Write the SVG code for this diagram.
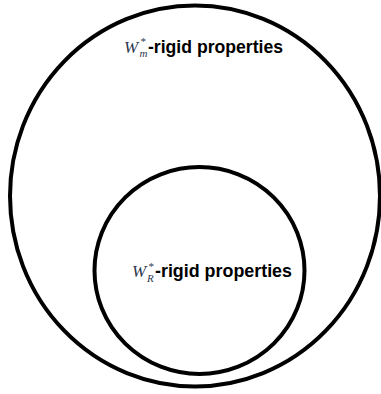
<svg xmlns="http://www.w3.org/2000/svg" width="381" height="394" viewBox="0 0 381 394">
<style>
.ring{fill:none;stroke:#000;stroke-width:4}
.lbl{font-family:"Liberation Sans",Arial,sans-serif;font-weight:bold;font-size:17.5px;fill:#000}
.w{font-family:"Liberation Serif","Times New Roman",serif;font-style:italic;fill:#2e3850}
</style>
<rect width="381" height="394" fill="#fff"/>
<g id="outer">
<ellipse class="ring" cx="195" cy="196" rx="185" ry="190.5"/>
<text class="w" x="124" y="52.5" font-size="17">W</text>
<text class="w" x="140" y="45" font-size="11">*</text>
<text class="w" x="139.5" y="57" font-size="11">m</text>
<text class="lbl" x="148" y="52.5" textLength="135" lengthAdjust="spacingAndGlyphs">-rigid properties</text>
</g>
<g id="inner">
<ellipse class="ring" cx="199.5" cy="270.5" rx="105" ry="103.5"/>
<text class="w" x="132" y="277" font-size="17">W</text>
<text class="w" x="148" y="269.5" font-size="11">*</text>
<text class="w" x="147" y="282" font-size="11">R</text>
<text class="lbl" x="155" y="277" textLength="137" lengthAdjust="spacingAndGlyphs">-rigid properties</text>
</g>
<g id="connectors"></g>
</svg>
